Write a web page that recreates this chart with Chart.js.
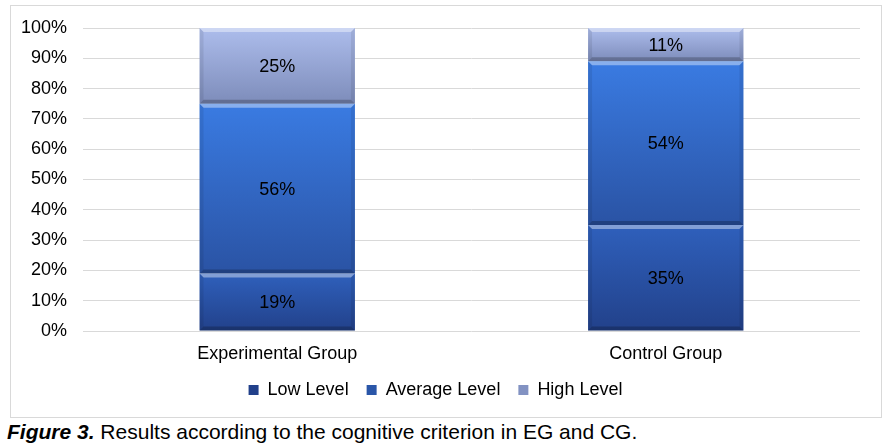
<!DOCTYPE html>
<html>
<head>
<meta charset="utf-8">
<script src="https://cdn.jsdelivr.net/npm/chart.js@4.4.0/dist/chart.umd.min.js"></script>
<style>
    body { margin: 0; background: #fff; font-family: "Liberation Sans", Arial, sans-serif; }
    #frame { position: absolute; left: 10px; top: 5px; width: 870px; height: 411px; border: 1px solid #d9d9d9; }
    #chart { display: block; }
    #caption { position: absolute; left: 7px; top: 420px; font-size: 21px; color: #000; white-space: nowrap; }
</style>
</head>
<body>
<div id="frame"><canvas id="chart" width="870" height="411"></canvas></div>
<div id="caption"><b><i>Figure 3.</i></b> Results according to the cognitive criterion in EG and CG.</div>
<script>
// data
const groups = ['Experimental Group', 'Control Group'];
const lowLevel = [19, 35];
const averageLevel = [56, 54];
const highLevel = [25, 11];
const yTicks = [0, 10, 20, 30, 40, 50, 60, 70, 80, 90, 100];

const seriesNames = ['Low Level', 'Average Level', 'High Level'];
const seriesData = [lowLevel, averageLevel, highLevel];
// top / bottom colour of each series' gradient
const gradColors = [
    ['#2f60bc', '#22418a'],
    ['#3a7be2', '#2a53a4'],
    ['#adbdec', '#7d8cba']
];
const legendColors = ['#21408a', '#2a56a8', '#8292c2'];
const FONT = '"Liberation Sans", Arial, sans-serif';

function segmentFill(ctx, s) {
    const chart = ctx.chart;
    const y = chart.scales.y;
    const i = ctx.dataIndex;
    if (!y || i === undefined || !chart.chartArea) return gradColors[s][0];
    let start = 0;
    for (let k = 0; k < s; k++) start += seriesData[k][i];
    const end = start + seriesData[s][i];
    const top = y.getPixelForValue(end);
    const bottom = y.getPixelForValue(start);
    if (!isFinite(top) || !isFinite(bottom) || top === bottom) return gradColors[s][0];
    const g = chart.ctx.createLinearGradient(0, top, 0, bottom);
    g.addColorStop(0, gradColors[s][0]);
    g.addColorStop(1, gradColors[s][1]);
    return g;
}

// bevel edges + value labels on the bars
const bevelPlugin = {
    id: 'bevel',
    afterDatasetsDraw(chart) {
        const c = chart.ctx;
        chart.data.datasets.forEach((ds, di) => {
            chart.getDatasetMeta(di).data.forEach((bar, i) => {
                const p = bar.getProps(['x', 'y', 'base', 'width'], true);
                const l = p.x - p.width / 2, r = p.x + p.width / 2;
                const t = p.y, b = p.base, e = 4;
                c.save();
                c.fillStyle = 'rgba(255,255,255,0.4)';
                c.beginPath(); c.moveTo(l, t); c.lineTo(r, t); c.lineTo(r - e, t + e); c.lineTo(l + e, t + e); c.closePath(); c.fill();
                c.fillStyle = 'rgba(0,0,0,0.22)';
                c.beginPath(); c.moveTo(l, b); c.lineTo(r, b); c.lineTo(r - e, b - e); c.lineTo(l + e, b - e); c.closePath(); c.fill();
                c.fillStyle = 'rgba(0,0,0,0.08)';
                c.beginPath(); c.moveTo(l, t); c.lineTo(l + e, t + e); c.lineTo(l + e, b - e); c.lineTo(l, b); c.closePath(); c.fill();
                c.beginPath(); c.moveTo(r, t); c.lineTo(r - e, t + e); c.lineTo(r - e, b - e); c.lineTo(r, b); c.closePath(); c.fill();
                c.fillStyle = '#000';
                c.font = '18px ' + FONT;
                c.textAlign = 'center';
                c.textBaseline = 'middle';
                c.fillText(ds.data[i] + '%', p.x, (t + b) / 2 + 1);
                c.restore();
            });
        });
    }
};

new Chart(document.getElementById('chart'), {
    type: 'bar',
    data: {
        labels: groups,
        datasets: seriesNames.map((name, s) => ({
            label: name,
            data: seriesData[s],
            backgroundColor: ctx => segmentFill(ctx, s),
            borderWidth: 0,
            categoryPercentage: 1,
            barPercentage: 0.4
        }))
    },
    options: {
        responsive: false,
        animation: false,
        layout: { autoPadding: false, padding: { top: 22, right: 21, left: 0, bottom: 8 } },
        plugins: {
            tooltip: { enabled: false },
            legend: {
                position: 'bottom',
                labels: {
                    color: '#000',
                    font: { size: 18, family: FONT },
                    boxWidth: 10,
                    boxHeight: 10,
                    padding: 18,
                    generateLabels: chart => seriesNames.map((name, s) => ({
                        text: name,
                        fillStyle: legendColors[s],
                        strokeStyle: legendColors[s],
                        lineWidth: 0,
                        datasetIndex: s
                    }))
                }
            }
        },
        scales: {
            x: {
                stacked: true,
                grid: { display: false, drawTicks: false },
                border: { display: false },
                ticks: { color: '#000', padding: 12, font: { size: 18, family: FONT } },
                afterFit: axis => { axis.height = 32; }
            },
            y: {
                stacked: true,
                min: 0,
                max: 100,
                afterBuildTicks: axis => { axis.ticks = yTicks.map(v => ({ value: v })); },
                grid: { color: '#d9d9d9', drawTicks: false },
                border: { display: false },
                ticks: {
                    color: '#000',
                    padding: 16,
                    font: { size: 18, family: FONT },
                    callback: v => v + '%'
                },
                afterFit: axis => {
                    axis.width = 72;
                    axis.paddingTop = 0;
                    axis.paddingBottom = 0;
                }
            }
        }
    },
    plugins: [bevelPlugin]
});
</script>
</body>
</html>
